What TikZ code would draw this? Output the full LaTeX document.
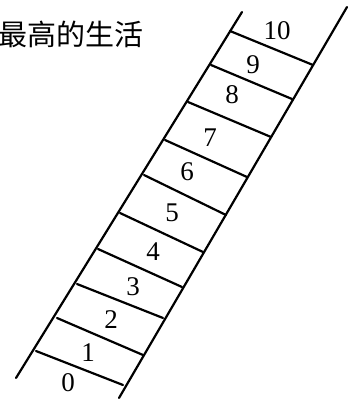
\documentclass[tikz,border=0pt]{standalone}
\usepackage{fontspec}
\setmainfont{Liberation Serif}
\newfontfamily\cjk{Noto Sans CJK SC}
\usepackage{tikz}

\tikzset{
  bar/.style={draw=black,line width=2.2pt,line cap=round},
  num/.style={inner sep=0pt,font=\fontsize{27}{27}\selectfont}
}

\begin{document}
\begin{tikzpicture}[x=1pt,y=-1pt]
\useasboundingbox (0,0) rectangle (354,401);

\node[inner sep=0pt,anchor=east,font=\cjk\fontsize{29}{29}\selectfont] (title) at (144,34) {最高的生活};

\coordinate (lb) at (16,378);
\coordinate (lt) at (242,12);
\coordinate (rb) at (119,398);
\coordinate (rt) at (347,7);

\coordinate (l0) at (36,351);  \coordinate (r0) at (123,385);
\coordinate (l1) at (57,318);  \coordinate (r1) at (143,355);
\coordinate (l2) at (77,284);  \coordinate (r2) at (163,318);
\coordinate (l3) at (98,249);  \coordinate (r3) at (182,287);
\coordinate (l4) at (120,213); \coordinate (r4) at (203,252);
\coordinate (l5) at (144,175); \coordinate (r5) at (226,215);
\coordinate (l6) at (165,140); \coordinate (r6) at (247,177);
\coordinate (l7) at (188,102); \coordinate (r7) at (271,137);
\coordinate (l8) at (211,65);  \coordinate (r8) at (292,99);
\coordinate (l9) at (230,31);  \coordinate (r9) at (313,65);

\path[bar] (lb) edge (lt);
\path[bar] (rb) edge (rt);
\path[bar] (l0) edge (r0);
\path[bar] (l1) edge (r1);
\path[bar] (l2) edge (r2);
\path[bar] (l3) edge (r3);
\path[bar] (l4) edge (r4);
\path[bar] (l5) edge (r5);
\path[bar] (l6) edge (r6);
\path[bar] (l7) edge (r7);
\path[bar] (l8) edge (r8);
\path[bar] (l9) edge (r9);

\node[num] (n0) at (68,383) {0};
\node[num] (n1) at (88,353) {1};
\node[num] (n2) at (111,320) {2};
\node[num] (n3) at (133,287) {3};
\node[num] (n4) at (153,252) {4};
\node[num] (n5) at (172,213) {5};
\node[num] (n6) at (187,172) {6};
\node[num] (n7) at (210,138) {7};
\node[num] (n8) at (232,95) {8};
\node[num] (n9) at (253,65) {9};
\node[num] (n10) at (277,31) {10};
\end{tikzpicture}
\end{document}
